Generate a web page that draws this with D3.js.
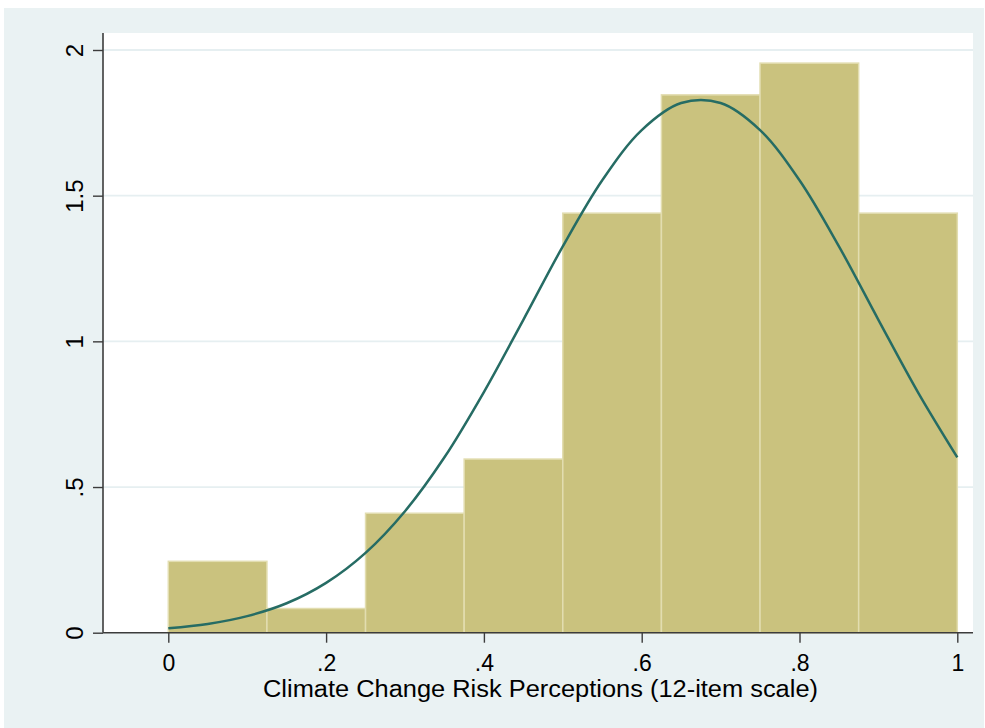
<!DOCTYPE html>
<html>
<head>
<meta charset="utf-8">
<script src="https://cdn.jsdelivr.net/npm/d3@7"></script>
<style>
  html, body { margin: 0; padding: 0; background: #ffffff; }
  svg { display: block; }
  text { font-family: Arial, "Liberation Sans", Helvetica, sans-serif; fill: #000; }
</style>
</head>
<body>
<svg id="chart" width="985" height="728"></svg>
<script>
// Histogram bins (left edges) and their density heights
const binStarts = [0, 0.125, 0.25, 0.375, 0.5, 0.625, 0.75, 0.875];
const binWidth = 0.125;
const densities = [0.245, 0.083, 0.41, 0.596, 1.44, 1.846, 1.955, 1.44];

// Overlaid normal density curve, sampled along the x range
const curveX = [0, 0.05, 0.1, 0.15, 0.2, 0.25, 0.3, 0.35, 0.4, 0.45, 0.5,
                0.55, 0.6, 0.65, 0.7, 0.75, 0.8, 0.85, 0.9, 0.95, 1];
const curveY = [0.015, 0.030, 0.057, 0.101, 0.171, 0.274, 0.417, 0.602, 0.826, 1.074, 1.326,
                1.553, 1.725, 1.818, 1.818, 1.725, 1.553, 1.326, 1.074, 0.826, 0.602];

// Axis ticks and labels
const xTicks = [0, 0.2, 0.4, 0.6, 0.8, 1];
const xTickLabels = ["0", ".2", ".4", ".6", ".8", "1"];
const yTicks = [0, 0.5, 1, 1.5, 2];
const yTickLabels = ["0", ".5", "1", "1.5", "2"];
const xTitle = "Climate Change Risk Perceptions (12-item scale)";

const svg = d3.select("#chart");

// Outer graph region
svg.append("rect").attr("x", 4).attr("y", 8).attr("width", 980).attr("height", 720)
  .attr("fill", "#eaf2f3");

// Plot region
const plot = { left: 103, right: 973, top: 33, bottom: 632.7 };
svg.append("rect")
  .attr("x", plot.left).attr("y", plot.top)
  .attr("width", plot.right - plot.left).attr("height", plot.bottom - plot.top)
  .attr("fill", "#ffffff");

const x = d3.scaleLinear().domain([0, 1]).range([168.3, 957.3]);
const y = d3.scaleLinear().domain([0, 2]).range([632.7, 50]);

// Horizontal grid lines
svg.append("g").selectAll("line")
  .data(yTicks.filter(d => d > 0))
  .join("line")
  .attr("x1", plot.left).attr("x2", plot.right)
  .attr("y1", d => y(d)).attr("y2", d => y(d))
  .attr("stroke", "#e6eff1").attr("stroke-width", 1.8);

// Histogram bars
svg.append("g").selectAll("rect")
  .data(binStarts.map((s, i) => ({ s, v: densities[i] })))
  .join("rect")
  .attr("x", d => x(d.s))
  .attr("width", d => x(d.s + binWidth) - x(d.s))
  .attr("y", d => y(d.v))
  .attr("height", d => y(0) - y(d.v))
  .attr("fill", "#cac27e")
  .attr("stroke", "#e2ddb0")
  .attr("stroke-width", 1.5);

// Density curve
const line = d3.line()
  .x((d, i) => x(curveX[i]))
  .y(d => y(d))
  .curve(d3.curveCatmullRom);
svg.append("path")
  .datum(curveY)
  .attr("d", line)
  .attr("fill", "none")
  .attr("stroke", "#266c64")
  .attr("stroke-width", 2.5);

// Y axis
const yAxis = d3.axisLeft(y).tickValues(yTicks)
  .tickFormat((d, i) => yTickLabels[i]).tickSize(10).tickPadding(10);
const gy = svg.append("g").attr("transform", `translate(${plot.left},0)`).call(yAxis);
gy.select(".domain").attr("d", `M0,${plot.top}V${plot.bottom}`)
  .attr("stroke", "#3c3c3c").attr("stroke-width", 1.6);
gy.selectAll(".tick line").attr("stroke", "#3c3c3c").attr("stroke-width", 1.4);
gy.selectAll(".tick text")
  .attr("font-size", 24)
  .attr("fill", "#000")
  .attr("text-anchor", "middle")
  .attr("dy", 0)
  .attr("x", 0).attr("y", 0)
  .attr("transform", "translate(-20,0) rotate(-90)");

// X axis
const xAxis = d3.axisBottom(x).tickValues(xTicks)
  .tickFormat((d, i) => xTickLabels[i]).tickSize(10).tickPadding(6);
const gx = svg.append("g").attr("transform", `translate(0,${plot.bottom})`).call(xAxis);
gx.select(".domain").attr("d", `M${plot.left},0H${plot.right}`)
  .attr("stroke", "#3c3c3c").attr("stroke-width", 1.6);
gx.selectAll(".tick line").attr("stroke", "#3c3c3c").attr("stroke-width", 1.4);
gx.selectAll(".tick text")
  .attr("font-size", 23).attr("fill", "#000")
  .attr("dy", 0).attr("y", 38.5);

// Axis title
svg.append("text")
  .attr("x", (plot.left + plot.right) / 2 + 2.5)
  .attr("y", 697)
  .attr("text-anchor", "middle")
  .attr("font-size", 23)
  .attr("textLength", 555)
  .attr("lengthAdjust", "spacingAndGlyphs")
  .text(xTitle);
</script>
</body>
</html>
